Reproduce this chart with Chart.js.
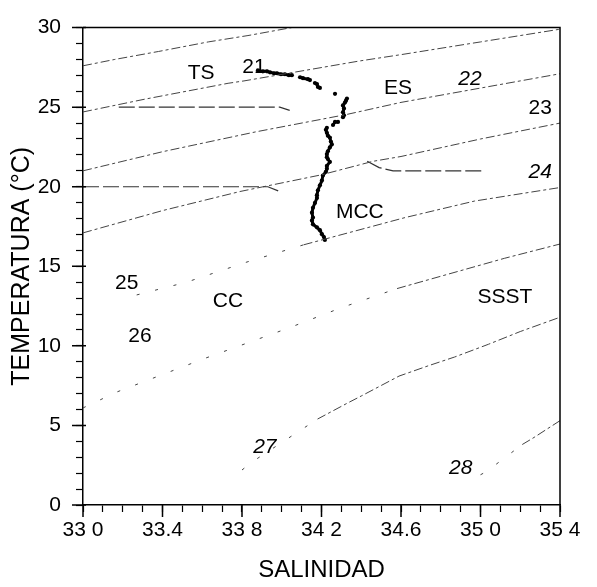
<!DOCTYPE html>
<html>
<head>
<meta charset="utf-8">
<script src="https://cdn.jsdelivr.net/npm/chart.js@4/dist/chart.umd.min.js"></script>
<style>
  html, body { margin: 0; padding: 0; background: #fff; }
</style>
</head>
<body>
<canvas id="tsChart" width="597" height="587"></canvas>
<script>
// tick labels as printed (the scan lost some decimal points)
const xTickLabels = ['33 0', '33.4', '33 8', '34 2', '34.6', '35 0', '35 4'];
const yTickLabels = ['0', '5', '10', '15', '20', '25', '30'];

// station profile: salinity / temperature
const profileSal = [33.88, 33.905, 33.926, 33.941, 33.961, 33.976, 33.996, 34.016, 34.036, 34.051,
  34.092, 34.107, 34.132, 34.142, 34.167, 34.177, 34.182, 34.192, 34.268, 34.328,
  34.323, 34.318, 34.308, 34.313, 34.308, 34.313, 34.308, 34.283, 34.268, 34.258,
  34.227, 34.222, 34.227, 34.232, 34.242, 34.247, 34.252, 34.242, 34.232, 34.227,
  34.227, 34.232, 34.242, 34.227, 34.227, 34.222, 34.207, 34.202, 34.192, 34.182,
  34.177, 34.177, 34.167, 34.157, 34.152, 34.157, 34.152, 34.157, 34.177, 34.192,
  34.202, 34.212, 34.217];
const profileTemp = [27.31, 27.25, 27.25, 27.19, 27.13, 27.13, 27.07, 27.07, 27.01, 27.01,
  26.88, 26.82, 26.76, 26.70, 26.52, 26.45, 26.27, 26.21, 25.84, 25.54,
  25.41, 25.29, 25.11, 24.92, 24.68, 24.49, 24.37, 24.07, 24.07, 23.88,
  23.70, 23.58, 23.39, 23.21, 23.09, 22.84, 22.66, 22.47, 22.23, 22.05,
  21.86, 21.74, 21.56, 21.31, 21.13, 20.94, 20.70, 20.39, 20.09, 19.78,
  19.47, 19.29, 18.98, 18.68, 18.37, 18.06, 17.88, 17.64, 17.45, 17.27,
  17.02, 16.84, 16.66];

// isopycnals, [salinity, temperature] pairs
const isoLine1 = [[33.0, 27.6], [33.16, 28.0], [33.38, 28.5], [33.63, 29.1], [33.83, 29.5], [34.05, 30.0]];
const isoLine2 = [[33.0, 24.7], [33.31, 25.5], [33.73, 26.5], [33.81, 26.65], [34.39, 27.9], [34.6, 28.3], [35.0, 29.1], [35.4, 29.9]];
const isoLine3 = [[33.0, 21.0], [33.4, 22.2], [33.87, 23.45], [34.33, 24.55], [34.6, 25.3], [35.0, 26.2], [35.4, 27.1]];
const isoLine4 = [[33.0, 17.1], [33.4, 18.5], [33.79, 19.7], [34.2, 20.75], [34.46, 21.6], [34.6, 21.9], [35.0, 23.0], [35.4, 24.0]];
const isoLine5 = [[33.27, 13.2], [33.52, 14.0], [33.82, 15.25], [34.11, 16.35], [34.62, 18.06], [34.97, 19.1], [35.4, 19.95]];
const isoLine6 = [[33.0, 6.1], [33.17, 7.1], [33.61, 9.2], [34.03, 11.1], [34.3, 12.4], [34.58, 13.6], [35.12, 15.5], [35.4, 16.4]];
const isoLine7 = [[33.80, 2.2], [33.85, 2.7], [34.18, 5.4], [34.33, 6.4], [34.40, 6.85], [34.59, 8.1], [34.74, 8.76], [34.87, 9.3], [35.04, 10.1], [35.2, 10.9], [35.4, 11.8]];
const isoLine8 = [[35.0, 1.9], [35.03, 2.1], [35.21, 3.8], [35.27, 4.25], [35.4, 5.3]];

// hand drawn water mass boundaries
const boundary25 = [[33.18, 25.0], [33.99, 25.0], [34.04, 24.8]];
const boundary20 = [[33.0, 20.0], [33.93, 20.0], [33.99, 19.7]];
const boundary21 = [[34.43, 21.6], [34.49, 21.2], [34.56, 21.0], [35.01, 21.0]];

// text placed on the diagram
const noteTexts = ['TS', '21', 'ES', '22', '23', '24', 'MCC', '25', 'CC', 'SSST', '26', '27', '28'];
const noteSal = [33.594, 33.86, 34.585, 34.947, 35.30, 35.30, 34.393, 33.22, 33.729, 35.123, 33.287, 33.915, 34.90];
const noteTemp = [27.13, 27.5, 26.21, 26.76, 24.92, 20.94, 18.37, 13.96, 12.8, 13.04, 10.59, 3.61, 2.33];

const italicNotes = ['22', '24', '27', '28'];
const FONT = '"Liberation Sans", Arial, sans-serif';

Chart.defaults.font.family = FONT;
Chart.defaults.color = '#000';

const toPoints = pairs => pairs.map(p => ({ x: p[0], y: p[1] }));

function isoDataset(line, sparseBelow) {
  return {
    data: toPoints(line),
    showLine: true,
    pointRadius: 0,
    borderColor: '#444',
    borderWidth: 1,
    borderDash: [9, 3, 3, 3],
    tension: 0,
    segment: {
      borderDash: ctx => ctx.p0.parsed.x < sparseBelow ? [3, 16] : undefined
    }
  };
}

function boundaryDataset(line) {
  return {
    data: toPoints(line),
    showLine: true,
    pointRadius: 0,
    borderColor: '#333',
    borderWidth: 1.2,
    borderDash: [16, 4],
    tension: 0
  };
}

const profilePoints = profileSal.map((s, i) => ({ x: s, y: profileTemp[i] }));

const extras = {
  id: 'extras',
  afterDraw(chart) {
    const { ctx, chartArea: a, scales: { x, y } } = chart;
    ctx.save();
    ctx.strokeStyle = '#000';
    ctx.lineWidth = 1.5;
    // top and right frame
    ctx.beginPath();
    ctx.moveTo(a.left, a.top);
    ctx.lineTo(a.right, a.top);
    ctx.lineTo(a.right, a.bottom);
    ctx.stroke();
    // longer major ticks
    ctx.beginPath();
    x.ticks.forEach((t, i) => {
      if (t.label === '') return;
      const px = x.getPixelForTick(i);
      ctx.moveTo(px, a.bottom);
      ctx.lineTo(px, a.bottom + 12);
    });
    y.ticks.forEach((t, i) => {
      if (t.label === '') return;
      const py = y.getPixelForTick(i);
      ctx.moveTo(a.left - 11, py);
      ctx.lineTo(a.left + 3, py);
    });
    ctx.stroke();
    // labels on the diagram
    ctx.fillStyle = '#000';
    ctx.textAlign = 'center';
    ctx.textBaseline = 'middle';
    noteTexts.forEach((txt, i) => {
      ctx.font = (italicNotes.includes(txt) ? 'italic ' : '') + '21px ' + FONT;
      ctx.fillText(txt, x.getPixelForValue(noteSal[i]), y.getPixelForValue(noteTemp[i]));
    });
    ctx.restore();
  }
};

new Chart(document.getElementById('tsChart'), {
  type: 'scatter',
  data: {
    datasets: [
      isoDataset(isoLine1, 0),
      isoDataset(isoLine2, 0),
      isoDataset(isoLine3, 0),
      isoDataset(isoLine4, 0),
      isoDataset(isoLine5, 34.05),
      isoDataset(isoLine6, 34.55),
      isoDataset(isoLine7, 34.18),
      isoDataset(isoLine8, 35.2),
      boundaryDataset(boundary25),
      boundaryDataset(boundary20),
      boundaryDataset(boundary21),
      {
        data: profilePoints,
        showLine: true,
        borderColor: '#000',
        borderWidth: 3,
        pointRadius: 2.1,
        pointBackgroundColor: '#000',
        pointBorderWidth: 0,
        segment: {
          borderColor: ctx => Math.hypot(ctx.p1.x - ctx.p0.x, ctx.p1.y - ctx.p0.y) > 5.5 ? 'rgba(0,0,0,0)' : undefined
        }
      }
    ]
  },
  options: {
    responsive: false,
    animation: false,
    layout: { padding: { top: 15, right: 37, left: 0, bottom: 0 } },
    plugins: {
      legend: { display: false },
      tooltip: { enabled: false }
    },
    scales: {
      x: {
        type: 'linear',
        min: 33.0,
        max: 35.4,
        afterFit: s => { s.height = 82; },
        border: { color: '#000', width: 1.5 },
        grid: { drawOnChartArea: false, drawTicks: true, tickLength: 7, tickColor: '#000', tickWidth: 1.2 },
        ticks: {
          stepSize: 0.1,
          autoSkip: false,
          maxRotation: 0,
          padding: 6,
          font: { size: 21 },
          callback: v => {
            const k = Math.round(v * 10) - 330;
            return k % 4 === 0 ? xTickLabels[k / 4] : '';
          }
        },
        title: { display: true, text: 'SALINIDAD', font: { size: 24 }, padding: { top: 0, bottom: 2 } }
      },
      y: {
        type: 'linear',
        min: 0,
        max: 30,
        afterFit: s => { s.width = 83; },
        border: { color: '#000', width: 1.5 },
        grid: { drawOnChartArea: false, drawTicks: true, tickLength: 7, tickColor: '#000', tickWidth: 1.2 },
        ticks: {
          stepSize: 1,
          autoSkip: false,
          padding: 15,
          font: { size: 21 },
          callback: v => v % 5 === 0 ? yTickLabels[v / 5] : ''
        },
        title: { display: true, text: 'TEMPERATURA (°C)', font: { size: 25 }, padding: { top: 7, bottom: 0 } }
      }
    }
  },
  plugins: [extras]
});
</script>
</body>
</html>
